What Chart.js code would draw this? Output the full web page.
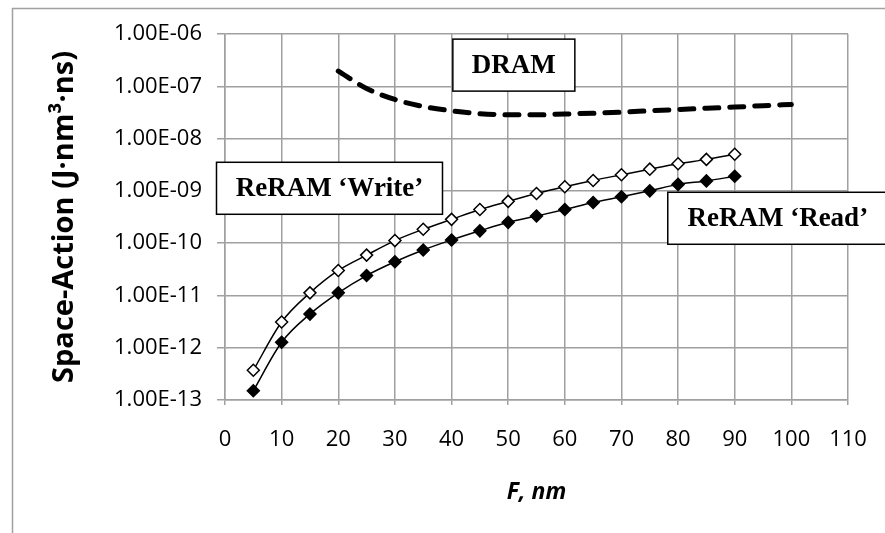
<!DOCTYPE html>
<html>
<head>
<meta charset="utf-8">
<script src="https://cdn.jsdelivr.net/npm/chart.js@4.4.0/dist/chart.umd.min.js"></script>
<style>
    html, body { margin: 0; padding: 0; background: #ffffff; }
    #wrap { position: relative; width: 885px; height: 533px; }
</style>
</head>
<body>
<div id="wrap"><canvas id="spaceActionChart" width="885" height="533"></canvas></div>
<script>
// 数据: 特征尺寸 F (nm)
const featureSizes = [5, 10, 15, 20, 25, 30, 35, 40, 45, 50, 55, 60, 65, 70, 75, 80, 85, 90];
const writeValues = [3.7e-13, 3.1e-12, 1.12e-11, 3.0e-11, 5.9e-11, 1.12e-10, 1.84e-10, 2.85e-10, 4.4e-10,
    6.3e-10, 8.9e-10, 1.2e-9, 1.58e-9, 2.03e-9, 2.6e-9, 3.3e-9, 4.0e-9, 5.0e-9];
const readValues = [1.5e-13, 1.27e-12, 4.4e-12, 1.12e-11, 2.4e-11, 4.4e-11, 7.4e-11, 1.15e-10, 1.72e-10,
    2.5e-10, 3.3e-10, 4.4e-10, 6.0e-10, 7.7e-10, 1.0e-9, 1.33e-9, 1.55e-9, 1.9e-9];
const dramSizes = [20, 25, 30, 35, 40, 45, 50, 55, 60, 65, 70, 75, 80, 85, 90, 95, 100];
const dramValues = [1.95e-7, 9.1e-8, 5.6e-8, 4.1e-8, 3.4e-8, 3.0e-8, 2.85e-8, 2.85e-8, 2.95e-8,
    3.05e-8, 3.2e-8, 3.4e-8, 3.6e-8, 3.8e-8, 4.0e-8, 4.25e-8, 4.5e-8];
const yTickValues = [1e-13, 1e-12, 1e-11, 1e-10, 1e-9, 1e-8, 1e-7, 1e-6];

// 标注框 (文字 + 数据坐标中心)
const noteLabels = ['DRAM', 'ReRAM \u2018Write\u2019', 'ReRAM \u2018Read\u2019'];
const noteAnchorX = [51, 18.45, 97.6];
const noteAnchorY = [2.54e-7, 1.12e-9, 2.99e-10];
const noteWidths = [122, 226, 220];

const gridGray = '#a0a0a0';

function toPoints(xs, ys) {
    return xs.map(function(x, i) { return {x: x, y: ys[i]}; });
}

// 1.00E-06 这种格式
function formatSci(v) {
    const exp = Math.round(Math.log10(v));
    const mant = v / Math.pow(10, exp);
    const sign = exp < 0 ? '-' : '+';
    return mant.toFixed(2) + 'E' + sign + String(Math.abs(exp)).padStart(2, '0');
}

// 外框 (左边和上边)
const outerFrame = {
    id: 'outerFrame',
    beforeDraw: function(chart) {
        const ctx = chart.ctx;
        ctx.save();
        ctx.strokeStyle = gridGray;
        ctx.lineWidth = 1.5;
        ctx.beginPath();
        ctx.moveTo(12.5, 533);
        ctx.lineTo(12.5, 8.5);
        ctx.lineTo(885, 8.5);
        ctx.stroke();
        ctx.restore();
    }
};

// 文本标注框
const noteBoxes = {
    id: 'noteBoxes',
    afterDatasetsDraw: function(chart) {
        const ctx = chart.ctx;
        const xs = chart.scales.x;
        const ys = chart.scales.y;
        ctx.save();
        noteLabels.forEach(function(label, i) {
            const cx = xs.getPixelForValue(noteAnchorX[i]);
            const cy = ys.getPixelForValue(noteAnchorY[i]);
            const w = noteWidths[i];
            const h = 52;
            ctx.fillStyle = '#ffffff';
            ctx.fillRect(cx - w / 2, cy - h / 2, w, h);
            ctx.strokeStyle = '#000000';
            ctx.lineWidth = 1.5;
            ctx.strokeRect(cx - w / 2, cy - h / 2, w, h);
            ctx.fillStyle = '#000000';
            ctx.font = 'bold 27px "Liberation Serif", "Times New Roman", serif';
            ctx.textAlign = 'center';
            ctx.textBaseline = 'middle';
            ctx.fillText(label, cx, cy + 1);
        });
        ctx.restore();
    }
};

const ctx = document.getElementById('spaceActionChart').getContext('2d');
window.spaceActionChart = new Chart(ctx, {
    type: 'line',
    data: {
        datasets: [
            {
                label: 'DRAM',
                data: toPoints(dramSizes, dramValues),
                borderColor: '#000000',
                borderWidth: 5,
                borderDash: [14, 11],
                borderCapStyle: 'round',
                pointRadius: 0,
                cubicInterpolationMode: 'monotone',
                fill: false
            },
            {
                label: "ReRAM 'Write'",
                data: toPoints(featureSizes, writeValues),
                borderColor: '#000000',
                borderWidth: 1.5,
                pointStyle: 'rectRot',
                pointRadius: 6,
                pointBorderWidth: 1.5,
                pointBackgroundColor: '#ffffff',
                pointBorderColor: '#000000',
                cubicInterpolationMode: 'monotone',
                fill: false
            },
            {
                label: "ReRAM 'Read'",
                data: toPoints(featureSizes, readValues),
                borderColor: '#000000',
                borderWidth: 1.5,
                pointStyle: 'rectRot',
                pointRadius: 6,
                pointBorderWidth: 1.5,
                pointBackgroundColor: '#000000',
                pointBorderColor: '#000000',
                cubicInterpolationMode: 'monotone',
                fill: false
            }
        ]
    },
    options: {
        responsive: false,
        animation: false,
        devicePixelRatio: 1,
        layout: {
            padding: {left: 12, top: 34, right: 37, bottom: 0}
        },
        plugins: {
            legend: {display: false},
            tooltip: {enabled: false}
        },
        scales: {
            x: {
                type: 'linear',
                min: 0,
                max: 110,
                afterFit: function(scale) {
                    scale.height = 133;
                    scale.paddingLeft = 0;
                    scale.paddingRight = 0;
                },
                ticks: {
                    stepSize: 10,
                    color: '#000000',
                    padding: 22,
                    maxRotation: 0,
                    font: {family: '"Open Sans", sans-serif', size: 22}
                },
                grid: {
                    color: gridGray,
                    lineWidth: 1.5,
                    tickLength: 5
                },
                border: {color: gridGray, width: 1.5},
                title: {
                    display: true,
                    text: 'F, nm',
                    color: '#000000',
                    font: {family: '"Open Sans", sans-serif', size: 23, weight: 'bold', style: 'italic'},
                    padding: {top: 0, bottom: 27}
                }
            },
            y: {
                type: 'logarithmic',
                min: 1e-13,
                max: 1e-6,
                afterFit: function(scale) {
                    scale.width = 213;
                    scale.paddingTop = 0;
                    scale.paddingBottom = 0;
                },
                afterBuildTicks: function(scale) {
                    scale.ticks = yTickValues.map(function(v) { return {value: v}; });
                },
                ticks: {
                    color: '#000000',
                    padding: 15,
                    font: {family: '"Open Sans", sans-serif', size: 22},
                    callback: function(v) { return formatSci(v); }
                },
                grid: {
                    color: gridGray,
                    lineWidth: 1.5,
                    tickLength: 8
                },
                border: {color: gridGray, width: 1.5},
                title: {
                    display: true,
                    text: 'Space-Action (J\u00b7nm\u00b3\u00b7ns)',
                    color: '#000000',
                    font: {family: '"Open Sans", sans-serif', size: 29, weight: 'bold'},
                    padding: {top: 35, bottom: 35}
                }
            }
        }
    },
    plugins: [outerFrame, noteBoxes]
});
</script>
</body>
</html>
